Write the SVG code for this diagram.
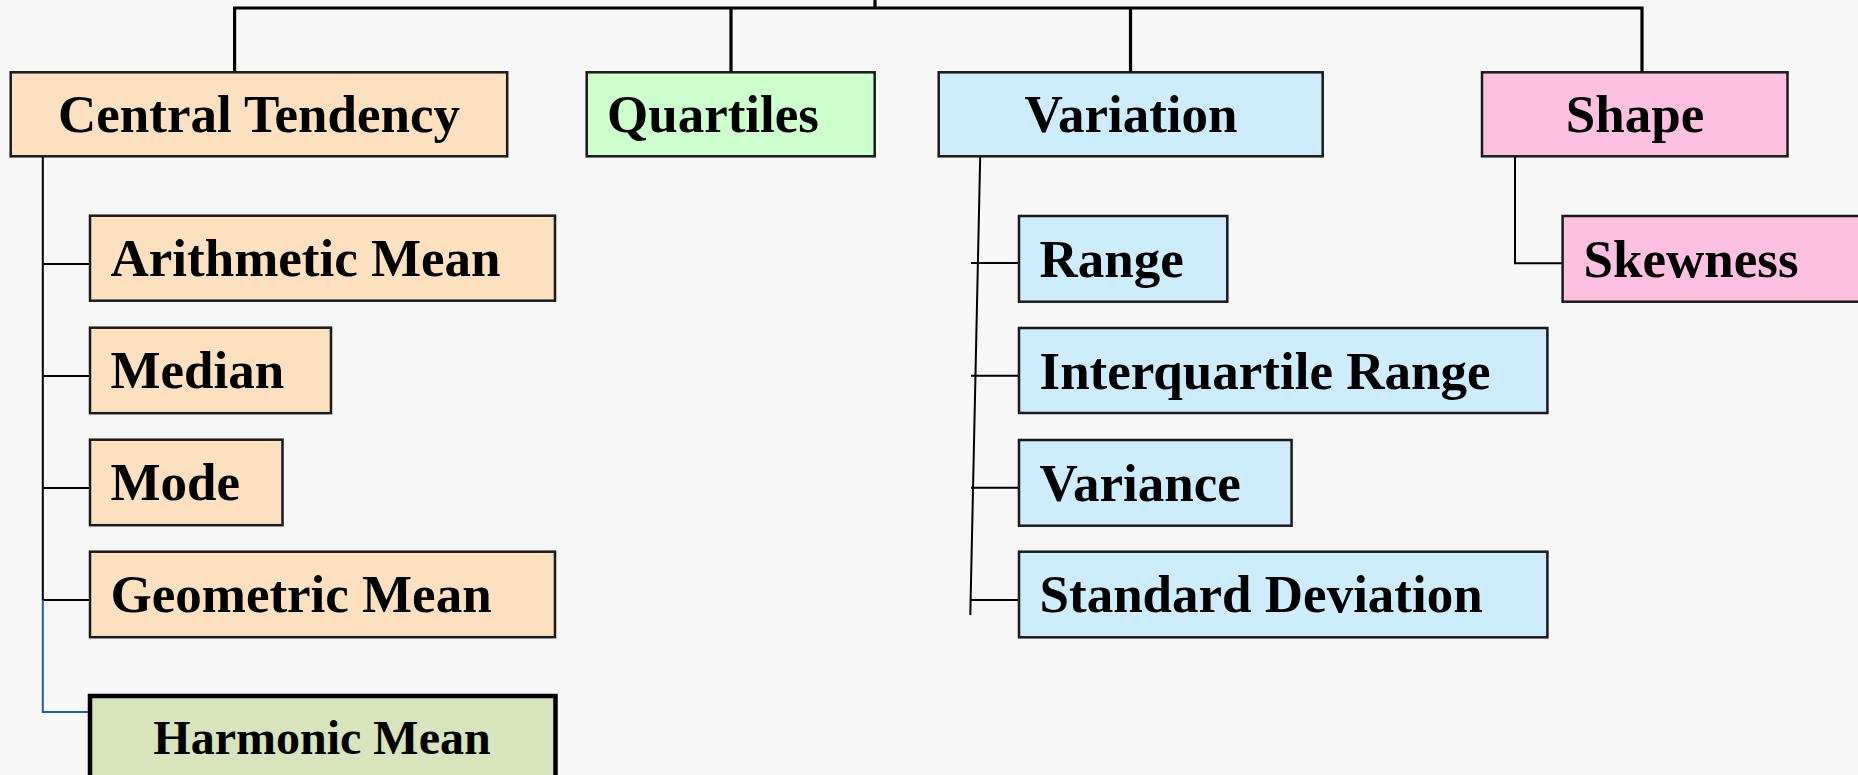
<svg xmlns="http://www.w3.org/2000/svg" width="1858" height="775" viewBox="0 0 1858 775">
<style>
.bg{fill:#f7f7f7}
.box{stroke:#1a1a1a;stroke-width:2.5}
.ct{fill:#fde0c0}
.qt{fill:#ccffcc}
.va{fill:#cdecfe}
.sh{fill:#fdc0e0}
.hm{fill:#d8e4bc;stroke:#000;stroke-width:4.5}
.t{font-family:"Liberation Serif","Times New Roman",serif;font-weight:bold;font-size:53px;fill:#000}
.tm{text-anchor:middle}
.c{fill:none;stroke:#000;stroke-width:2}
.ct3{fill:none;stroke:#000;stroke-width:3.2}
.blue{fill:none;stroke:#1f5ea8;stroke-width:2}
</style>
<rect class="bg" x="0" y="0" width="1858" height="775"/>
<g id="connectors">
  <path class="ct3" d="M875,0 V8 M234.6,8 H1643.5 M234.6,6.5 V72 M731,8 V72 M1130.5,8 V72 M1642,6.5 V72"/>
  <path class="c" d="M42.8,156 V600 M42.8,264 H90 M42.8,376 H90 M42.8,488 H90 M42.8,600 H90"/>
  <path class="blue" d="M42.8,600 V712 H89"/>
  <path class="c" d="M980.2,156 L970.3,615 M971,263 H1019 M971,375.7 H1019 M971,487.7 H1019 M971,600 H1019"/>
  <path class="c" d="M1515,156 V263.3 H1563"/>
</g>
<g id="central-tendency"><rect class="box ct" x="10.7" y="72.3" width="496.5" height="84"/><text class="t tm" x="259" y="132">Central Tendency</text></g>
<g id="quartiles"><rect class="box qt" x="586.7" y="72.3" width="288" height="84"/><text class="t" x="607" y="132">Quartiles</text></g>
<g id="variation"><rect class="box va" x="938.7" y="72.3" width="384" height="84"/><text class="t tm" x="1131" y="132">Variation</text></g>
<g id="shape"><rect class="box sh" x="1482" y="72.3" width="305.5" height="84"/><text class="t tm" x="1635" y="132">Shape</text></g>
<g id="arithmetic-mean"><rect class="box ct" x="90" y="215.7" width="465" height="85"/><text class="t" x="110.5" y="276">Arithmetic Mean</text></g>
<g id="median"><rect class="box ct" x="90" y="327.7" width="241" height="85.5"/><text class="t" x="110.5" y="388">Median</text></g>
<g id="mode"><rect class="box ct" x="90" y="439.7" width="192.5" height="85.5"/><text class="t" x="110.5" y="500">Mode</text></g>
<g id="geometric-mean"><rect class="box ct" x="90" y="551.7" width="465" height="85.5"/><text class="t" x="110.5" y="612">Geometric Mean</text></g>
<g id="harmonic-mean"><rect class="hm" x="90" y="696" width="465.5" height="100"/><text class="t tm" x="322" y="754" style="font-size:48px">Harmonic Mean</text></g>
<g id="range"><rect class="box va" x="1019" y="216" width="208.3" height="85.7"/><text class="t" x="1039.5" y="276.5">Range</text></g>
<g id="interquartile-range"><rect class="box va" x="1019" y="328" width="528.4" height="85"/><text class="t" x="1039.5" y="388.5">Interquartile Range</text></g>
<g id="variance"><rect class="box va" x="1019" y="440" width="272.6" height="85.7"/><text class="t" x="1039.5" y="500.5">Variance</text></g>
<g id="standard-deviation"><rect class="box va" x="1019" y="551.7" width="528.4" height="85.6"/><text class="t" x="1039.5" y="612">Standard Deviation</text></g>
<g id="skewness"><rect class="box sh" x="1562.6" y="216" width="310" height="85.7"/><text class="t" x="1583.5" y="276.5">Skewness</text></g>
</svg>
